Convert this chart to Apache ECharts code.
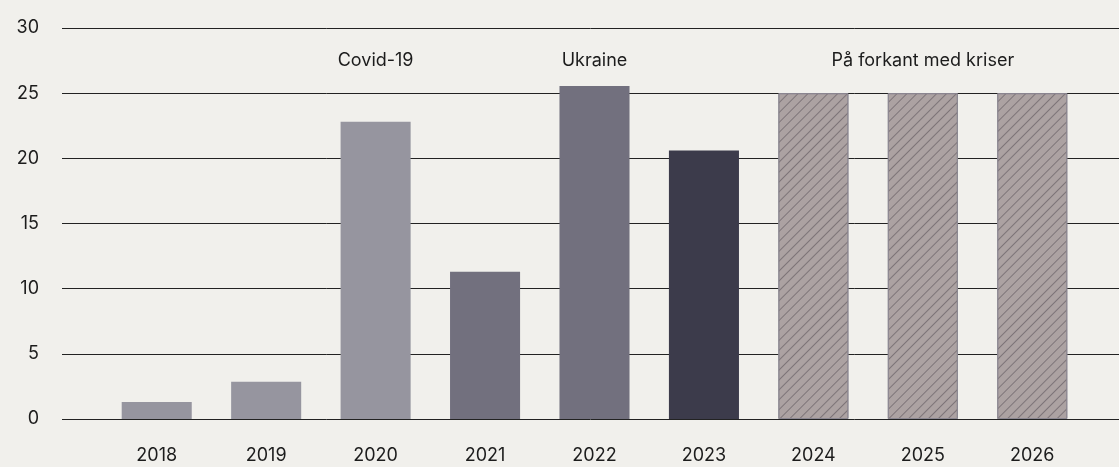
<!DOCTYPE html>
<html>
<head>
<meta charset="utf-8">
<script src="https://cdn.jsdelivr.net/npm/echarts@6/dist/echarts.min.js"></script>
<style>
  html, body { margin: 0; padding: 0; background: #f1f0ec; }
  #chart { width: 1119px; height: 467px; }
</style>
</head>
<body>
<div id="chart"></div>
<script>
// data
var years = ['2018', '2019', '2020', '2021', '2022', '2023', '2024', '2025', '2026'];
var values = [1.3, 2.85, 22.8, 11.3, 25.55, 20.6, 25, 25, 25];
var yTicks = [0, 5, 10, 15, 20, 25, 30];
var notes = [
  { year: '2020', text: 'Covid-19' },
  { year: '2022', text: 'Ukraine' },
  { year: '2025', text: 'På forkant med kriser' }
];

var FONT = 'Inter, "Noto Sans", sans-serif';
var light = '#96959f', mid = '#72707e', dark = '#3c3b4b';
var barColors = [light, light, light, mid, mid, dark];

var myChart = echarts.init(document.getElementById('chart'));

var barData = values.map(function (v, i) {
  if (i < 6) {
    return { value: v, itemStyle: { color: barColors[i] } };
  }
  // prognose - skravert
  return {
    value: v,
    itemStyle: {
      color: '#aca2a2',
      borderColor: '#8c8892',
      borderWidth: 1,
      decal: {
        symbol: 'rect',
        color: '#7d7478',
        dashArrayX: [1, 0],
        dashArrayY: [1, 6],
        rotation: -Math.PI / 4
      }
    }
  };
});

var option = {
  backgroundColor: '#f1f0ec',
  animation: false,
  grid: [
    { left: 62, right: 0, top: 28, bottom: 48 },   // kun linjer
    { left: 102, right: 32, top: 28, bottom: 48 }  // søyler
  ],
  xAxis: [
    { gridIndex: 0, type: 'value', show: false, min: 0, max: 1 },
    {
      gridIndex: 1,
      type: 'category',
      data: years,
      axisLine: { show: false },
      axisTick: { show: false },
      axisLabel: { color: '#1c1c1c', fontFamily: FONT, fontSize: 18, margin: 28 }
    }
  ],
  yAxis: [
    {
      gridIndex: 0,
      type: 'value',
      min: 0,
      max: 30,
      interval: 5,
      axisLine: { show: false },
      axisTick: { show: false },
      splitLine: { lineStyle: { color: '#222', width: 1 } },
      axisLabel: {
        color: '#1c1c1c', fontFamily: FONT, fontSize: 18, margin: 23,
        padding: [0, 0, 12, 0],
        customValues: yTicks
      }
    },
    { gridIndex: 1, type: 'value', min: 0, max: 30, show: false }
  ],
  series: [
    {
      type: 'bar',
      xAxisIndex: 1,
      yAxisIndex: 1,
      barWidth: '64%',
      data: barData,
      markPoint: {
        symbol: 'rect',
        symbolSize: 0,
        label: {
          show: true,
          position: 'inside',
          color: '#1c1c1c',
          fontFamily: FONT,
          fontSize: 18,
          formatter: function (p) { return p.name; }
        },
        data: notes.map(function (n) {
          return { name: n.text, coord: [n.year, 27.5] };
        })
      }
    }
  ]
};

myChart.clear();
myChart.setOption(option);
</script>
</body>
</html>
